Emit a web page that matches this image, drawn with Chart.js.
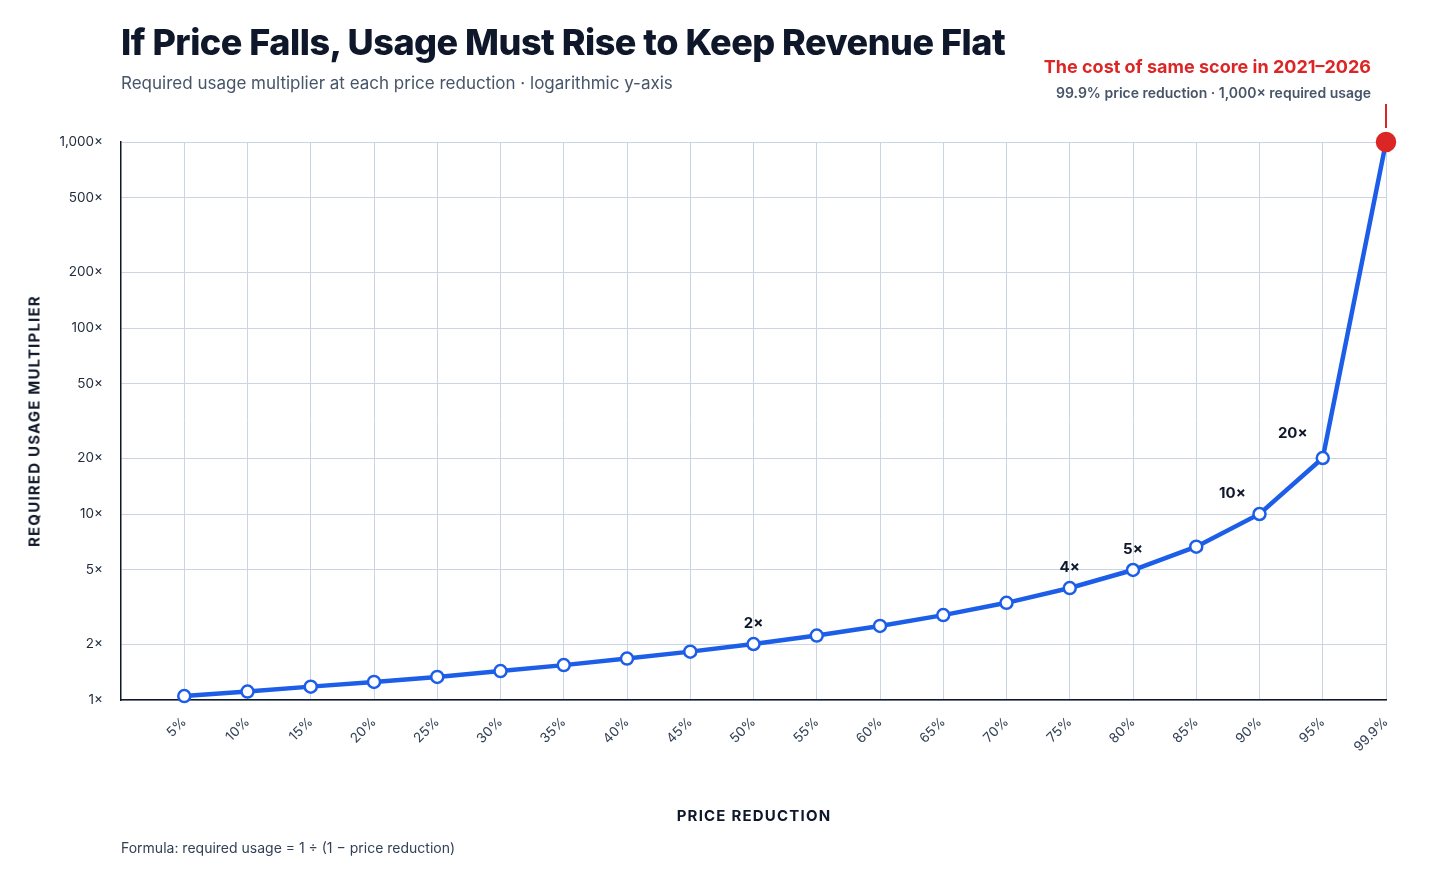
<!DOCTYPE html>
<html><head><meta charset="utf-8">
<script src="https://cdn.jsdelivr.net/npm/chart.js@4"></script>
<style>
body{margin:0;background:#fff;font-family:Inter,"Noto Sans",sans-serif;color:#0f172a}
#wrap{position:relative;width:1456px;height:874px}
canvas{position:absolute;left:0;top:0}
.t{position:absolute;white-space:nowrap}
</style></head><body>
<div id="wrap">
<canvas id="c" width="1456" height="874"></canvas>
<div class="t" style="left:121px;top:20px;font-size:36px;font-weight:800;letter-spacing:-0.5px">If Price Falls, Usage Must Rise to Keep Revenue Flat</div>
<div class="t" style="left:121px;top:73px;font-size:17px;color:#475569">Required usage multiplier at each price reduction · logarithmic y-axis</div>
<div class="t" style="right:85px;top:56px;font-size:18px;font-weight:700;color:#dc2626">The cost of same score in 2021–2026</div>
<div class="t" style="right:85px;top:84px;font-size:14px;font-weight:600;color:#475569">99.9% price reduction · 1,000× required usage</div>
<div class="t" style="left:34px;top:421px;transform:translate(-50%,-50%) rotate(-90deg);font-size:15px;font-weight:700;letter-spacing:1.2px">REQUIRED USAGE MULTIPLIER</div>
<div class="t" style="left:754px;top:806px;transform:translateX(-50%);font-size:15px;font-weight:700;letter-spacing:1.2px">PRICE REDUCTION</div>
<div class="t" style="left:121px;top:839px;font-size:14px;color:#334155">Formula: required usage = 1 ÷ (1 − price reduction)</div>
</div>
<script>
const priceLabels = ['5%','10%','15%','20%','25%','30%','35%','40%','45%','50%','55%','60%','65%','70%','75%','80%','85%','90%','95%','99.9%'];
const usage = [1.05,1.11,1.18,1.25,1.33,1.43,1.54,1.67,1.82,2,2.22,2.5,2.86,3.33,4,5,6.67,10,20,1000];
const yTicks = [1,2,5,10,20,50,100,200,500,1000];
const callouts = {9:'2×',14:'4×',15:'5×',17:'10×',18:'20×'};

const last = usage.length - 1;
const blue = '#1d5ee8', red = '#dc2626';

const labelPlugin = {
  id: 'callouts',
  afterDatasetsDraw(chart) {
    const ctx = chart.ctx, meta = chart.getDatasetMeta(0);
    ctx.save();
    ctx.font = '700 15px Inter, sans-serif';
    ctx.fillStyle = '#0f172a';
    ctx.textAlign = 'center';
    for (const k in callouts) {
      const p = meta.data[k];
      const dx = k == 17 ? -27 : (k == 18 ? -30 : 0);
      const dy = k == 18 ? -20 : -16;
      ctx.fillText(callouts[k], p.x + dx, p.y + dy);
    }
    const p = meta.data[last];
    ctx.strokeStyle = red; ctx.lineWidth = 2;
    ctx.beginPath(); ctx.moveTo(p.x, p.y - 14); ctx.lineTo(p.x, p.y - 38); ctx.stroke();
    ctx.restore();
  }
};

new Chart(document.getElementById('c'), {
  type: 'line',
  data: {
    datasets: [{
      data: usage.map((v, i) => ({x: i, y: v})),
      borderColor: blue, borderWidth: 4.5,
      pointRadius: usage.map((v, i) => i === last ? 9 : 6),
      pointBackgroundColor: usage.map((v, i) => i === last ? red : '#fff'),
      pointBorderColor: usage.map((v, i) => i === last ? red : blue),
      pointBorderWidth: 2.5,
      clip: false, tension: 0
    }]
  },
  plugins: [labelPlugin],
  options: {
    responsive: false, animation: false,
    layout: {padding: {top: 142, right: 70, left: 0, bottom: 0}},
    plugins: {legend: {display: false}, tooltip: {enabled: false}},
    scales: {
      x: {
        type: 'linear', min: -1, max: 19,
        afterBuildTicks: s => { s.ticks = priceLabels.map((l, i) => ({value: i})); },
        afterFit: s => { s.height = 174; },
        grid: {color: '#cbd5e1', drawTicks: false},
        border: {color: '#0f172a', width: 1.5},
        ticks: {
          callback: v => priceLabels[v] || '',
          maxRotation: 45, minRotation: 45, padding: 14,
          color: '#334155', font: {size: 13.5, family: 'Inter, sans-serif'}
        }
      },
      y: {
        type: 'logarithmic', min: 1, max: 1000,
        afterBuildTicks: s => { s.ticks = yTicks.map(v => ({value: v})); },
        afterFit: s => { s.width = 121; },
        grid: {color: '#cbd5e1', drawTicks: false},
        border: {color: '#0f172a', width: 1.5},
        ticks: {
          callback: v => v.toLocaleString('en-US') + '×',
          padding: 18, color: '#1e293b', font: {size: 13.5, family: 'Inter, sans-serif'}
        }
      }
    }
  }
});
</script>
</body></html>
